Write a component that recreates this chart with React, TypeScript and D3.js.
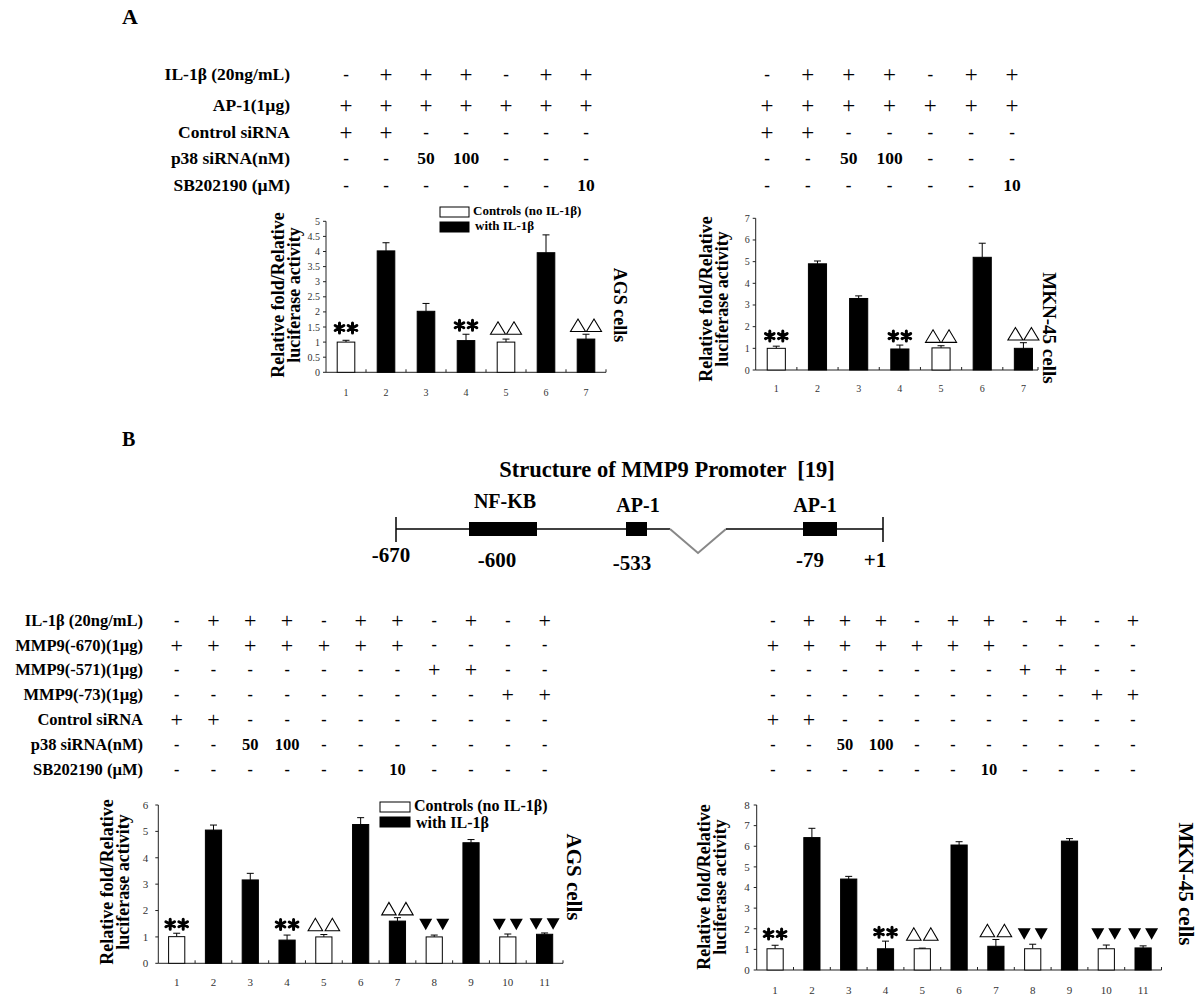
import React from 'react';
import * as d3 from 'd3';

const SERIF = '"Liberation Serif", "Times New Roman", serif';

// ---------- Panel A data ----------
const lanesA = ['1', '2', '3', '4', '5', '6', '7'];
const agsAValues = [1.0, 4.02, 2.02, 1.05, 1.0, 3.96, 1.1];
const agsAErr = [0.06, 0.27, 0.26, 0.21, 0.1, 0.59, 0.16];
const mknAValues = [1.0, 4.9, 3.3, 0.97, 1.02, 5.2, 1.0];
const mknAErr = [0.1, 0.13, 0.12, 0.18, 0.1, 0.65, 0.26];
const marksA = ['**', '', '', '**', 'tri', '', 'tri'];
const agsATicks = ['0', '0.5', '1', '1.5', '2', '2.5', '3', '3.5', '4', '4.5', '5'];
const mknATicks = ['0', '1', '2', '3', '4', '5', '6', '7'];
const tableALabels = ['IL-1β (20ng/mL)', 'AP-1(1µg)', 'Control siRNA', 'p38 siRNA(nM)', 'SB202190 (µM)'];
const tableARows = [
  ['-', '+', '+', '+', '-', '+', '+'],
  ['+', '+', '+', '+', '+', '+', '+'],
  ['+', '+', '-', '-', '-', '-', '-'],
  ['-', '-', '50', '100', '-', '-', '-'],
  ['-', '-', '-', '-', '-', '-', '10'],
];

// ---------- Panel B data ----------
const lanesB = ['1', '2', '3', '4', '5', '6', '7', '8', '9', '10', '11'];
const agsBValues = [1.01, 5.05, 3.16, 0.88, 1.0, 5.26, 1.6, 1.0, 4.57, 1.0, 1.1];
const agsBErr = [0.13, 0.19, 0.25, 0.19, 0.09, 0.26, 0.13, 0.07, 0.12, 0.11, 0.05];
const mknBValues = [1.03, 6.42, 4.41, 1.03, 1.03, 6.06, 1.15, 1.03, 6.25, 1.03, 1.07];
const mknBErr = [0.17, 0.45, 0.13, 0.37, 0.03, 0.16, 0.33, 0.22, 0.12, 0.18, 0.1];
const marksB = ['**', '', '', '**', 'tri', '', 'tri', 'inv', '', 'inv', 'inv'];
const agsBTicks = ['0', '1', '2', '3', '4', '5', '6'];
const mknBTicks = ['0', '1', '2', '3', '4', '5', '6', '7', '8'];
const tableBLabels = [
  'IL-1β (20ng/mL)',
  'MMP9(-670)(1µg)',
  'MMP9(-571)(1µg)',
  'MMP9(-73)(1µg)',
  'Control siRNA',
  'p38 siRNA(nM)',
  'SB202190 (µM)',
];
const tableBRows = [
  ['-', '+', '+', '+', '-', '+', '+', '-', '+', '-', '+'],
  ['+', '+', '+', '+', '+', '+', '+', '-', '-', '-', '-'],
  ['-', '-', '-', '-', '-', '-', '-', '+', '+', '-', '-'],
  ['-', '-', '-', '-', '-', '-', '-', '-', '-', '+', '+'],
  ['+', '+', '-', '-', '-', '-', '-', '-', '-', '-', '-'],
  ['-', '-', '50', '100', '-', '-', '-', '-', '-', '-', '-'],
  ['-', '-', '-', '-', '-', '-', '10', '-', '-', '-', '-'],
];

const legendNames = ['Controls (no IL-1β)', 'with IL-1β'];
const promoterTitle = 'Structure of MMP9 Promoter  [19]';
const promoterSites = ['NF-KB', 'AP-1', 'AP-1'];
const promoterPositions = ['-670', '-600', '-533', '-79', '+1'];

// ---------- helpers ----------
function makeX(lanes: string[], left: number, right: number, pad = 0.56) {
  return d3.scaleBand<string>().domain(lanes).range([left, right]).paddingInner(pad).paddingOuter(pad / 2);
}

function asteriskPath(cx: number, cy: number, r: number) {
  const p = d3.path();
  [90, 30, 150].forEach((a) => {
    const rad = (a * Math.PI) / 180;
    const dx = r * Math.cos(rad);
    const dy = r * Math.sin(rad);
    p.moveTo(cx - dx, cy - dy);
    p.lineTo(cx + dx, cy + dy);
  });
  return p.toString();
}

function triPath(cx: number, cy: number, w: number, h: number, down: boolean) {
  const p = d3.path();
  const s = down ? -1 : 1;
  p.moveTo(cx - w / 2, cy + (s * h) / 2);
  p.lineTo(cx + w / 2, cy + (s * h) / 2);
  p.lineTo(cx, cy - (s * h) / 2);
  p.closePath();
  return p.toString();
}

type ChartProps = {
  x: d3.ScaleBand<string>;
  axisEnd: number;
  lanes: string[];
  values: number[];
  errs: number[];
  fills: string[];
  marks: string[];
  markBase: number;
  ticks: string[];
  top: number;
  bottom: number;
  yMax: number;
  tickFont: number;
  xLabelY: number;
  labelGap: number;
  ast: number;
  astSep: number;
  triW: number;
  triH: number;
  invW: number;
  invH: number;
  sep: number;
};

function BarChart(props: ChartProps) {
  const { x, axisEnd, lanes, values, errs, fills, marks, markBase, ticks, top, bottom, yMax, tickFont, xLabelY, labelGap } =
    props;
  const y = d3.scaleLinear().domain([0, yMax]).range([bottom, top]);
  const [left] = x.range();
  const step = x.step();
  const bw = x.bandwidth();
  const axisColor = '#222';
  return (
    <g>
      {/* y axis */}
      <line x1={left} x2={left} y1={y(0)} y2={y(yMax)} stroke={axisColor} strokeWidth={1} />
      {ticks.map((t) => {
        const v = +t;
        return (
          <g key={'yt' + t}>
            <line x1={left - 3} x2={left} y1={y(v)} y2={y(v)} stroke={axisColor} strokeWidth={1} />
            <text
              x={left - labelGap}
              y={y(v)}
              dy="0.35em"
              textAnchor="end"
              fontSize={tickFont}
              fill="#333"
              fontFamily={SERIF}
            >
              {t}
            </text>
          </g>
        );
      })}
      {/* x axis */}
      <line x1={left} x2={axisEnd} y1={y(0)} y2={y(0)} stroke={axisColor} strokeWidth={1} />
      {lanes.map((l, i) => {
        const tx = Math.min(left + step * (i + 1), axisEnd);
        return <line key={'xt' + l} x1={tx} x2={tx} y1={y(0)} y2={y(0) - 3} stroke={axisColor} strokeWidth={1} />;
      })}
      {/* bars */}
      {lanes.map((l, i) => {
        const x0 = x(l) as number;
        const cx = x0 + bw / 2;
        const v = values[i];
        const e = errs[i];
        return (
          <g key={'b' + l}>
            <line x1={cx} x2={cx} y1={y(v)} y2={y(v + e)} stroke="#000" strokeWidth={1} />
            <line x1={cx - 3.5} x2={cx + 3.5} y1={y(v + e)} y2={y(v + e)} stroke="#000" strokeWidth={1} />
            <rect
              x={x0}
              y={y(v)}
              width={bw}
              height={y(0) - y(v)}
              fill={fills[i]}
              stroke="#000"
              strokeWidth={1}
            />
            <text x={cx} y={xLabelY} dy="0.35em" textAnchor="middle" fontSize={tickFont} fill="#333" fontFamily={SERIF}>
              {l}
            </text>
          </g>
        );
      })}
      {/* significance marks */}
      {lanes.map((l, i) => {
        const m = marks[i];
        if (!m) return null;
        const cx = (x(l) as number) + bw / 2;
        const cy = y(Math.max(markBase, values[i] + errs[i])) - 9;
        const s = props.sep;
        if (m === '**') {
          return (
            <path
              key={'m' + l}
              d={asteriskPath(cx - props.astSep, cy, props.ast) + asteriskPath(cx + props.astSep, cy, props.ast)}
              stroke="#000"
              strokeWidth={3}
              strokeLinecap="round"
              fill="none"
            />
          );
        }
        if (m === 'tri') {
          return (
            <path
              key={'m' + l}
              d={triPath(cx - s, cy, props.triW, props.triH, false) + triPath(cx + s, cy, props.triW, props.triH, false)}
              stroke="#000"
              strokeWidth={1.1}
              fill="#fff"
            />
          );
        }
        return (
          <path
            key={'m' + l}
            d={triPath(cx - s, cy, props.invW, props.invH, true) + triPath(cx + s, cy, props.invW, props.invH, true)}
            fill="#000"
          />
        );
      })}
    </g>
  );
}

function Table({
  labels,
  rows,
  labelRight,
  cols,
  rowY,
  labelSize,
  plusSize,
  dashSize,
  numSize,
}: {
  labels: string[];
  rows: string[][];
  labelRight: number | null;
  cols: number[];
  rowY: number[];
  labelSize: number;
  plusSize: number;
  dashSize: number;
  numSize: number;
}) {
  return (
    <g fontFamily={SERIF} fill="#000">
      {labelRight !== null &&
        labels.map((lab, r) => (
          <text
            key={'l' + r}
            x={labelRight}
            y={rowY[r]}
            dy="0.35em"
            textAnchor="end"
            fontWeight="bold"
            fontSize={labelSize}
          >
            {lab}
          </text>
        ))}
      {rows.map((row, r) =>
        row.map((s, c) => {
          const isPlus = s === '+';
          const isDash = s === '-';
          return (
            <text
              key={r + '-' + c}
              x={cols[c]}
              y={rowY[r]}
              dy="0.35em"
              textAnchor="middle"
              fontWeight={isPlus ? 'normal' : 'bold'}
              fontSize={isPlus ? plusSize : isDash ? dashSize : numSize}
              fill="#000"
            >
              {s}
            </text>
          );
        })
      )}
    </g>
  );
}

function YTitle({ cx, cy, gapPx, size }: { cx: number; cy: number; gapPx: number; size: number }) {
  return (
    <g transform={`translate(${cx},${cy}) rotate(-90)`} fontFamily={SERIF} fontWeight="bold" fontSize={size}>
      <text x={0} y={-gapPx / 2} dy="0.35em" textAnchor="middle">
        Relative fold/Relative
      </text>
      <text x={0} y={gapPx / 2} dy="0.35em" textAnchor="middle">
        luciferase activity
      </text>
    </g>
  );
}

function SideLabel({ cx, cy, size, text }: { cx: number; cy: number; size: number; text: string }) {
  return (
    <text
      transform={`translate(${cx},${cy}) rotate(90)`}
      textAnchor="middle"
      dy="0.35em"
      fontFamily={SERIF}
      fontWeight="bold"
      fontSize={size}
    >
      {text}
    </text>
  );
}

function Legend({
  x,
  y,
  w,
  h,
  gap,
  textGap,
  size,
}: {
  x: number;
  y: number;
  w: number;
  h: number;
  gap: number;
  textGap: number;
  size: number;
}) {
  return (
    <g fontFamily={SERIF} fontWeight="bold" fontSize={size}>
      {legendNames.map((n, i) => (
        <g key={n}>
          <rect
            x={x}
            y={y + i * gap}
            width={w}
            height={h}
            fill={i === 0 ? '#fff' : '#000'}
            stroke="#000"
            strokeWidth={1}
          />
          <text x={x + w + 4 + i * 2} y={y + h / 2 - 1 + i * textGap} dy="0.33em">
            {n}
          </text>
        </g>
      ))}
    </g>
  );
}

function Promoter() {
  const lineY = 529;
  return (
    <g fontFamily={SERIF} fontWeight="bold">
      <text x={667} y={477} textAnchor="middle" fontSize={22.5} style={{ whiteSpace: 'pre' }}>
        {promoterTitle}
      </text>
      <line x1={396} x2={670} y1={lineY} y2={lineY} stroke="#000" strokeWidth={1.5} />
      <polyline points={`670,${lineY} 698,553 726,${lineY}`} fill="none" stroke="#888" strokeWidth={2} />
      <line x1={726} x2={883} y1={lineY} y2={lineY} stroke="#000" strokeWidth={1.5} />
      <line x1={396} x2={396} y1={517} y2={542} stroke="#000" strokeWidth={1.5} />
      <line x1={883} x2={883} y1={517} y2={542} stroke="#000" strokeWidth={1.5} />
      <rect x={469} y={522} width={68} height={14} fill="#000" />
      <rect x={626} y={522} width={21} height={14} fill="#000" />
      <rect x={803} y={522} width={34} height={14} fill="#000" />
      <text x={505} y={508} textAnchor="middle" fontSize={20}>
        {promoterSites[0]}
      </text>
      <text x={638} y={512} textAnchor="middle" fontSize={20}>
        {promoterSites[1]}
      </text>
      <text x={815} y={512} textAnchor="middle" fontSize={20}>
        {promoterSites[2]}
      </text>
      <text x={391} y={562} textAnchor="middle" fontSize={21}>
        {promoterPositions[0]}
      </text>
      <text x={497} y={567} textAnchor="middle" fontSize={21}>
        {promoterPositions[1]}
      </text>
      <text x={632} y={570} textAnchor="middle" fontSize={21}>
        {promoterPositions[2]}
      </text>
      <text x={810} y={567} textAnchor="middle" fontSize={21}>
        {promoterPositions[3]}
      </text>
      <text x={875} y={567} textAnchor="middle" fontSize={21}>
        {promoterPositions[4]}
      </text>
    </g>
  );
}

export default function App() {
  const xAL = makeX(lanesA, 326, 606);
  const xAR = makeX(lanesA, 755.7, 1044);
  const xBL = makeX(lanesB, 158.3, 563);
  const xBR = makeX(lanesB, 756.7, 1161.5);
  const centers = (x: d3.ScaleBand<string>, lanes: string[]) => lanes.map((l) => (x(l) as number) + x.bandwidth() / 2);

  const fillsA = tableARows[0].map((s) => (s === '+' ? '#000' : '#fff'));
  const fillsB = tableBRows[0].map((s) => (s === '+' ? '#000' : '#fff'));

  const rowsA = [74, 105, 132, 158, 185];
  const rowsB = d3.range(tableBLabels.length).map((i) =>
    d3.scalePoint<number>().domain(d3.range(tableBLabels.length)).range([620, 769])(i) as number
  );
  const colsAR = d3.range(lanesA.length).map((i) =>
    d3.scalePoint<number>().domain(d3.range(lanesA.length)).range([767, 1012])(i) as number
  );
  const colsBR = d3.range(lanesB.length).map((i) =>
    d3.scalePoint<number>().domain(d3.range(lanesB.length)).range([773, 1133])(i) as number
  );

  const markA = { ast: 5, astSep: 6.5, triW: 15, triH: 12.5, invW: 13, invH: 11, sep: 8 };
  const markB = { ast: 5, astSep: 6.5, triW: 14.5, triH: 12.5, invW: 13, invH: 11.5, sep: 8.5 };

  return (
    <svg
      width={1200}
      height={1007}
      viewBox="0 0 1200 1007"
      style={{ position: 'absolute', left: 0, top: 0, background: '#fff' }}
    >
      <rect x={0} y={0} width={1200} height={1007} fill="#fff" />
      {/* Panel letters */}
      <text x={122} y={24} fontFamily={SERIF} fontWeight="bold" fontSize={22}>
        A
      </text>
      <text x={122} y={446} fontFamily={SERIF} fontWeight="bold" fontSize={20}>
        B
      </text>

      {/* Panel A tables */}
      <Table
        labels={tableALabels}
        rows={tableARows}
        labelRight={290}
        cols={centers(xAL, lanesA)}
        rowY={rowsA}
        labelSize={17.5}
        plusSize={23}
        dashSize={17}
        numSize={17.5}
      />
      <Table
        labels={tableALabels}
        rows={tableARows}
        labelRight={null}
        cols={colsAR}
        rowY={rowsA}
        labelSize={17.5}
        plusSize={23}
        dashSize={17}
        numSize={17.5}
      />

      {/* Panel A charts */}
      <BarChart
        x={xAL}
        axisEnd={606}
        lanes={lanesA}
        values={agsAValues}
        errs={agsAErr}
        fills={fillsA}
        marks={marksA}
        markBase={1.17}
        ticks={agsATicks}
        top={221.3}
        bottom={372.3}
        yMax={5}
        tickFont={10}
        xLabelY={392}
        labelGap={6}
        {...markA}
      />
      <Legend x={440} y={207} w={29} h={10} gap={15} textGap={15} size={13} />
      <YTitle cx={286} cy={295} gapPx={16} size={18} />
      <SideLabel cx={620} cy={305} size={18} text="AGS cells" />

      <BarChart
        x={xAR}
        axisEnd={1038}
        lanes={lanesA}
        values={mknAValues}
        errs={mknAErr}
        fills={fillsA}
        marks={marksA}
        markBase={1.15}
        ticks={mknATicks}
        top={218.3}
        bottom={370}
        yMax={7}
        tickFont={10}
        xLabelY={388}
        labelGap={6}
        {...markA}
      />
      <YTitle cx={714} cy={299} gapPx={16} size={18} />
      <SideLabel cx={1050} cy={328} size={19} text="MKN-45 cells" />

      {/* Promoter */}
      <Promoter />

      {/* Panel B tables */}
      <Table
        labels={tableBLabels}
        rows={tableBRows}
        labelRight={143}
        cols={centers(xBL, lanesB)}
        rowY={rowsB}
        labelSize={16.5}
        plusSize={22}
        dashSize={16}
        numSize={16.5}
      />
      <Table
        labels={tableBLabels}
        rows={tableBRows}
        labelRight={null}
        cols={colsBR}
        rowY={rowsB}
        labelSize={16.5}
        plusSize={22}
        dashSize={16}
        numSize={16.5}
      />

      {/* Panel B charts */}
      <BarChart
        x={xBL}
        axisEnd={563}
        lanes={lanesB}
        values={agsBValues}
        errs={agsBErr}
        fills={fillsB}
        marks={marksB}
        markBase={1.13}
        ticks={agsBTicks}
        top={805}
        bottom={963.3}
        yMax={6}
        tickFont={11}
        xLabelY={982}
        labelGap={10}
        {...markB}
      />
      <Legend x={380} y={802} w={30} h={10} gap={15} textGap={17} size={16} />
      <YTitle cx={115} cy={882} gapPx={16} size={18} />
      <SideLabel cx={574} cy={877} size={21} text="AGS cells" />

      <BarChart
        x={xBR}
        axisEnd={1161.5}
        lanes={lanesB}
        values={mknBValues}
        errs={mknBErr}
        fills={fillsB}
        marks={marksB}
        markBase={1.31}
        ticks={mknBTicks}
        top={805}
        bottom={970}
        yMax={8}
        tickFont={11}
        xLabelY={990}
        labelGap={7}
        {...markB}
      />
      <YTitle cx={712} cy={887} gapPx={16} size={18} />
      <SideLabel cx={1186} cy={884} size={21} text="MKN-45 cells" />
    </svg>
  );
}
